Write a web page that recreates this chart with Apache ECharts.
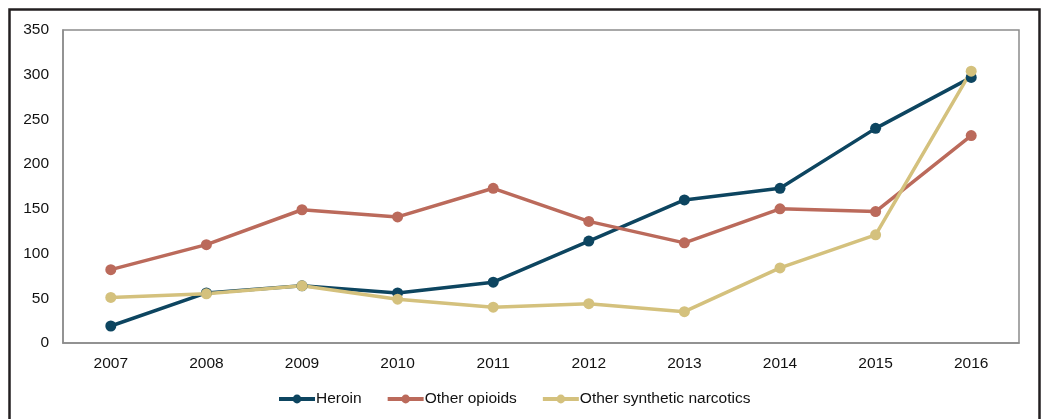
<!DOCTYPE html>
<html>
<head>
<meta charset="utf-8">
<style>
  html, body { margin: 0; padding: 0; background: #fff; }
  #chart { width: 1047px; height: 419px; }
</style>
<script src="https://cdn.jsdelivr.net/npm/echarts@6/dist/echarts.min.js"></script>
</head>
<body>
<div id="chart"></div>
<script>
const years = ['2007', '2008', '2009', '2010', '2011', '2012', '2013', '2014', '2015', '2016'];
const heroin = [19, 56, 64, 56, 68, 114, 160, 173, 240, 297];
const otherOpioids = [82, 110, 149, 141, 173, 136, 112, 150, 147, 232];
const syntheticNarcotics = [51, 55, 64, 49, 40, 44, 35, 84, 121, 304];
const seriesNames = ['Heroin', 'Other opioids', 'Other synthetic narcotics'];
const seriesColors = ['#0d4560', '#bb6a5b', '#d4c17d'];

const chart = echarts.init(document.getElementById('chart'), null, { renderer: 'canvas' });

function lineSeries(name, data, color) {
  return {
    name: name,
    type: 'line',
    data: data,
    symbol: 'circle',
    symbolSize: 11,
    showSymbol: true,
    lineStyle: { width: 3.5, color: color },
    itemStyle: { color: color },
    emphasis: { disabled: true },
    animation: false
  };
}

chart.setOption({
  animation: false,
  textStyle: { fontFamily: 'Liberation Sans, Arial, sans-serif' },
  graphic: [{
    type: 'rect',
    shape: { x: 9.5, y: 9.5, width: 1030, height: 420 },
    style: { fill: 'none', stroke: '#231f20', lineWidth: 2.5 },
    silent: true,
    z: 100
  }],
  grid: {
    left: 63, right: 28, top: 30, bottom: 76,
    show: true, borderColor: '#8c8c8c', borderWidth: 1.5,
    containLabel: false
  },
  legend: {
    top: 386,
    left: 272,
    itemWidth: 36,
    itemHeight: 11,
    itemGap: 24,
    lineStyle: { width: 4 },
    textStyle: { fontSize: 15.5, color: '#111', padding: [0, 0, 0, -4] },
    data: seriesNames
  },
  xAxis: {
    type: 'category',
    data: years,
    boundaryGap: true,
    axisLine: { show: true, lineStyle: { color: '#8c8c8c', width: 1.5 } },
    axisTick: { show: false },
    axisLabel: { fontSize: 15.5, color: '#111', margin: 13 },
    splitLine: { show: false }
  },
  yAxis: {
    type: 'value',
    min: 0, max: 350, interval: 50,
    axisLine: { show: true, lineStyle: { color: '#8c8c8c', width: 1.5 } },
    axisTick: { show: false },
    axisLabel: { fontSize: 15.5, color: '#111', margin: 14 },
    splitLine: { show: false }
  },
  series: [
    lineSeries(seriesNames[0], heroin, seriesColors[0]),
    lineSeries(seriesNames[1], otherOpioids, seriesColors[1]),
    lineSeries(seriesNames[2], syntheticNarcotics, seriesColors[2])
  ]
});
</script>
</body>
</html>
